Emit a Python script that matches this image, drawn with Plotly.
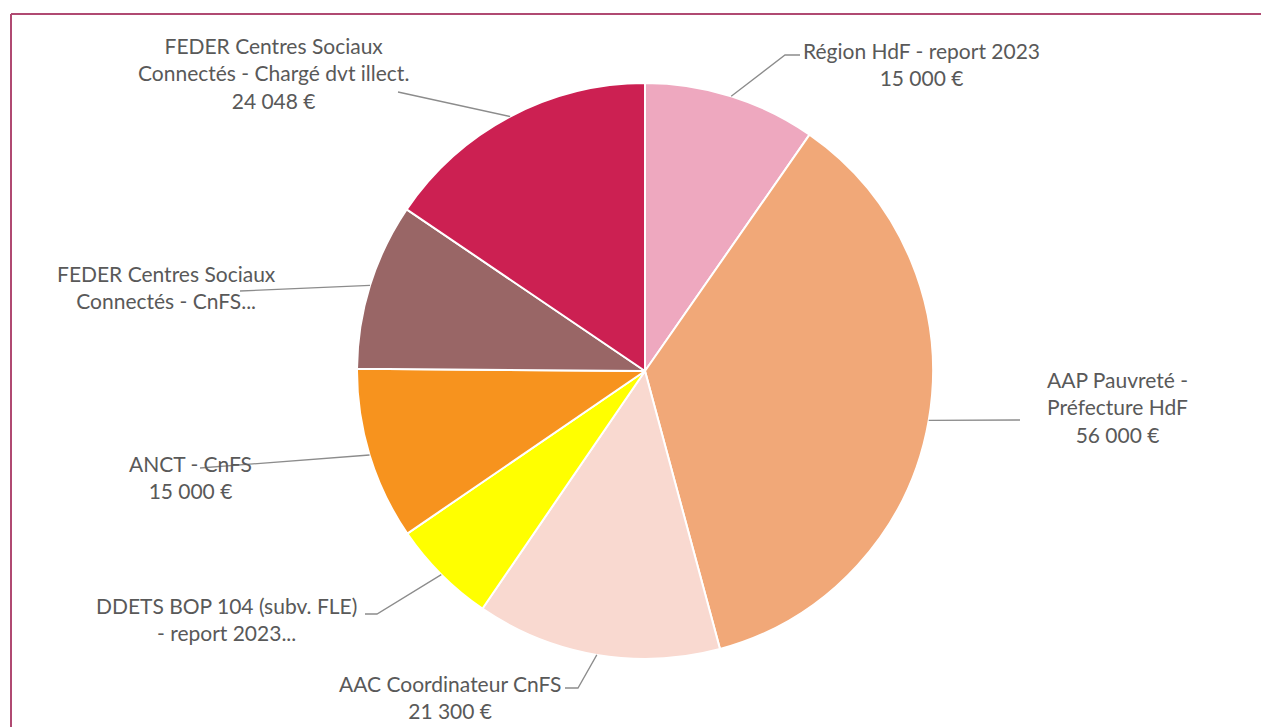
import math
import plotly.graph_objects as go

# ---- data ----
categories = [
    "Région HdF - report 2023",
    "AAP Pauvreté - Préfecture HdF",
    "AAC Coordinateur CnFS",
    "DDETS BOP 104 (subv. FLE) - report 2023",
    "ANCT - CnFS",
    "FEDER Centres Sociaux Connectés - CnFS",
    "FEDER Centres Sociaux Connectés - Chargé dvt illect.",
]
values = [15000, 56000, 21300, 9150, 15000, 14500, 24048]
label_lines = [
    ["Région HdF - report 2023"],
    ["AAP Pauvreté -", "Préfecture HdF"],
    ["AAC Coordinateur CnFS"],
    ["DDETS BOP 104 (subv. FLE)", "- report 2023..."],
    ["ANCT - CnFS"],
    ["FEDER Centres Sociaux", "Connectés - CnFS..."],
    ["FEDER Centres Sociaux", "Connectés - Chargé dvt illect."],
]
show_value = [True, True, True, False, True, False, True]
colors = ["#EEA8BF", "#F1A878", "#F9D9D0", "#FFFF00", "#F7931E", "#996666", "#CC2052"]

# ---- layout constants (page pixels) ----
WIN_W, WIN_H = 1269, 727
OFF = 8  # page body margin
W, H = WIN_W - OFF, WIN_H - OFF
cx, cy, r = 645, 371, 288
text_pos = [(921, 64), (1117, 407), (450, 697), (226, 619), (190, 477), (166, 287), (273, 73)]
leader_start = [
    [(800, 55), (785, 55)],
    [(1020, 420)],
    [(565, 688), (578, 688)],
    [(365, 614), (377, 614)],
    [(200, 468)],
    [(240, 291)],
    [(398, 92)],
]
font_family = "Lato, 'Open Sans', sans-serif"
text_color = "#595959"


def fmt(v):
    return f"{v:,}".replace(",", "\u202f") + "\u00a0€"


fig = go.Figure()
fig.add_trace(go.Pie(
    labels=categories,
    values=values,
    sort=False,
    direction="clockwise",
    rotation=0,
    textinfo="none",
    hoverinfo="label+value",
    marker=dict(colors=colors, line=dict(color="white", width=2)),
    domain=dict(x=[(cx - r - OFF) / W, (cx + r - OFF) / W],
                y=[1 - (cy + r - OFF) / H, 1 - (cy - r - OFF) / H]),
    showlegend=False,
))

total = sum(values)
shapes = []
annotations = []
cum = 0
for i, v in enumerate(values):
    mid = (cum + v / 2) / total * 2 * math.pi
    cum += v
    px = cx + r * math.sin(mid)
    py = cy - r * math.cos(mid)
    pts = leader_start[i] + [(px, py)]
    path = "M " + " L ".join(f"{x:.1f},{y:.1f}" for x, y in pts)
    shapes.append(dict(type="path", path=path, xref="x", yref="y",
                       line=dict(color="#8C8C8C", width=1.3)))
    lines = list(label_lines[i])
    if show_value[i]:
        lines.append(fmt(v))
    tx, ty = text_pos[i]
    annotations.append(dict(x=tx, y=ty, xref="x", yref="y", text="<br>".join(lines),
                            showarrow=False, xanchor="center", yanchor="middle",
                            align="center",
                            font=dict(family=font_family, size=21, color=text_color)))

# frame lines
shapes.append(dict(type="line", xref="x", yref="y", x0=11, y0=14, x1=WIN_W, y1=14,
                   line=dict(color="#B04A72", width=2)))
shapes.append(dict(type="line", xref="x", yref="y", x0=11, y0=14, x1=11, y1=WIN_H,
                   line=dict(color="#B04A72", width=2)))

fig.update_layout(
    width=W, height=H,
    margin=dict(l=0, r=0, t=0, b=0),
    paper_bgcolor="white", plot_bgcolor="rgba(0,0,0,0)",
    xaxis=dict(range=[OFF, WIN_W], visible=False, fixedrange=True),
    yaxis=dict(range=[WIN_H, OFF], visible=False, fixedrange=True),
    shapes=shapes,
    annotations=annotations,
    showlegend=False,
)

fig.write_html("out.html")
